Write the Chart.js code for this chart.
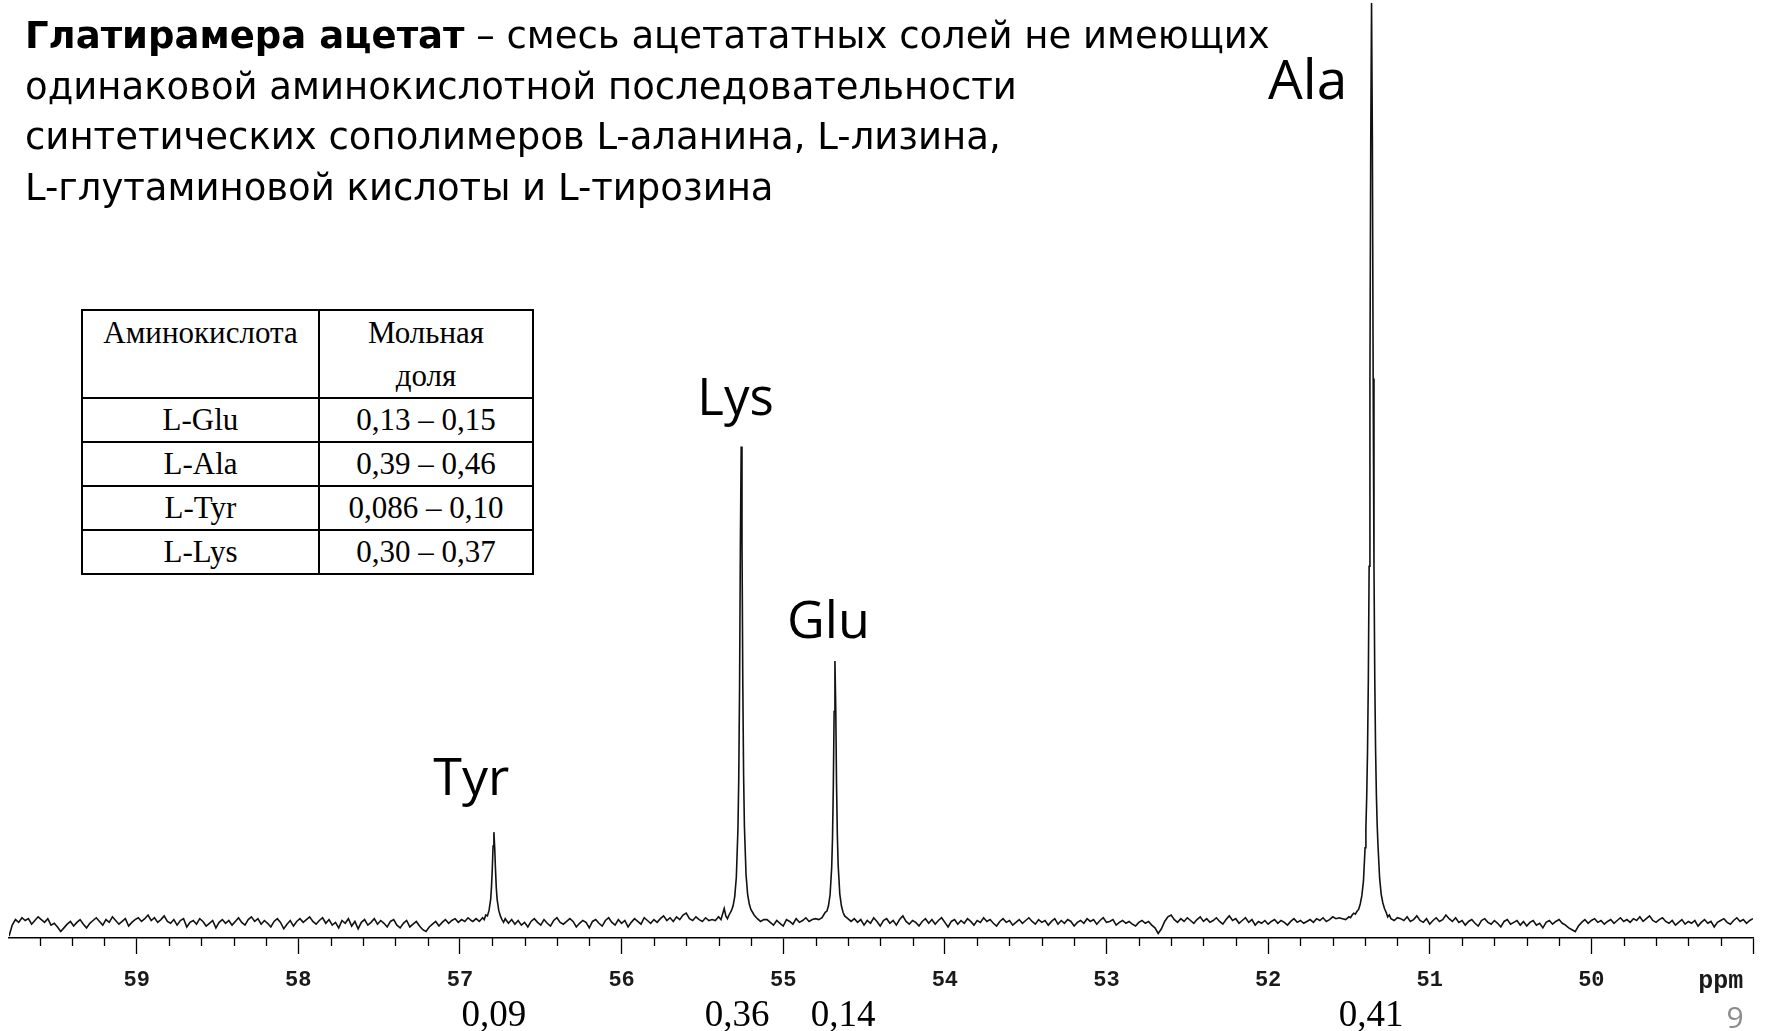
<!DOCTYPE html>
<html>
<head>
<meta charset="utf-8">
<title>Глатирамера ацетат</title>
<script src="https://cdn.jsdelivr.net/npm/chart.js@4.4.1/dist/chart.umd.min.js"></script>
<style>
body { margin: 0; background: #fff; overflow: hidden; }
#wrap { position: absolute; left: 0; top: 0; width: 1766px; height: 1031px; }
#titulo {
    position: absolute; left: 25px; top: 11px; z-index: 2;
    font-family: "DejaVu Sans"; font-size: 37px; line-height: 50.7px; color: #000; white-space: nowrap;
}
#tabla {
    position: absolute; left: 81px; top: 309px; z-index: 2;
    border-collapse: collapse; background: #fff;
    font-family: "Liberation Serif"; font-size: 31px; color: #000;
}
#tabla td { border: 2px solid #000; padding: 0; text-align: center; line-height: 42px; height: 42px; }
#tabla td.h { vertical-align: top; height: 84px; line-height: 43px; }
#pagina {
    position: absolute; left: 1717px; top: 996px; width: 36px; text-align: center; z-index: 2;
    font-family: "Open Sans"; font-size: 30px; color: #8c8c8c;
}
</style>
</head>
<body>
<div id="wrap"><canvas id="chart"></canvas></div>

<div id="titulo"><b>Глатирамера ацетат</b> – смесь ацетататных солей не имеющих<br>одинаковой аминокислотной последовательности<br>синтетических сополимеров L-аланина, L-лизина,<br>L-глутаминовой кислоты и L-тирозина</div>

<table id="tabla">
  <tr><td class="h" style="width:235px">Аминокислота</td><td class="h" style="width:212px">Мольная<br>доля</td></tr>
  <tr><td>L-Glu</td><td>0,13 – 0,15</td></tr>
  <tr><td>L-Ala</td><td>0,39 – 0,46</td></tr>
  <tr><td>L-Tyr</td><td>0,086 – 0,10</td></tr>
  <tr><td>L-Lys</td><td>0,30 – 0,37</td></tr>
</table>

<div id="pagina">9</div>

<script>
// 13C спектр, ppm. шум базовой линии с шагом 0.02 ppm
var step = 0.02;

// 59.79 -> 56.93
var noiseA = [
    -1.4, -0.2, 0.4, 0.1, 0.6, 0.3, 0.5, -0.1, 0.3, 0.7,
    0.4, 0.1, 0.5, -0.2, 0.0, -0.4, -0.9, -0.5, -0.1, 0.2,
    -0.3, 0.1, 0.4, -0.1, -0.5, 0.0, 0.3, 0.6, 0.2, -0.2,
    0.4, 0.1, 0.7, 0.3, -0.1, 0.2, 0.5, -0.3, 0.1, 0.4,
    0.6, 0.2, 0.5, 0.9, 0.3, 0.6, 0.1, 0.4, 0.8, 0.2,
    0.0, 0.4, -0.2, 0.3, 0.5, -0.4, 0.1, 0.3, -0.1, 0.5,
    0.2, -0.3, 0.0, 0.3, -0.5, 0.1, 0.4, 0.0, 0.3, -0.2,
    0.2, 0.6, 0.1, -0.2, 0.4, 0.7, 0.2, 0.5, -0.1, 0.3,
    0.0, -0.4, 0.2, 0.5, 0.1, -0.6, -0.1, 0.3, -0.3, 0.2,
    0.5, 0.1, 0.4, 0.7, 0.2, -0.1, 0.3, 0.6, 0.0, 0.4,
    -0.2, 0.1, -0.5, 0.3, 0.0, 0.5, -0.3, 0.2, -0.6, 0.1,
    0.4, -0.2, 0.1, 0.5, -0.1, 0.3, 0.0, -0.4, 0.2, 0.4,
    -0.2, -0.5, 0.0, 0.3, -0.4, -0.1, 0.2, -0.3, -0.7, -0.9,
    -0.4, -0.1, 0.2, -0.3, 0.1, 0.4, 0.0, 0.3, 0.5, 0.1,
    0.4, 0.2, 0.6, 0.3
];
// 56.64 -> 55.44
var noiseB = [
    0.3, -0.2, 0.1, -0.4, 0.2, 0.5, 0.1, -0.2, 0.4, 0.0,
    -0.3, 0.3, 0.6, 0.1, -0.1, 0.2, 0.5, 0.2, -0.4, 0.0,
    0.3, 0.1, -0.5, 0.2, 0.4, 0.0, -0.3, 0.3, 0.6, 0.1,
    -0.2, 0.4, 0.0, 0.3, -0.4, 0.1, 0.5, 0.2, -0.1, 0.6,
    0.3, 0.0, 0.4, 0.1, 0.5, 0.8, 0.3, 0.6, 0.2, 0.7,
    0.4, 0.9, 1.1, 0.5, 0.3, 0.7, 0.4, 0.2, 0.6, 0.3,
    0.4
];
// 55.10 -> 54.80
var noiseC = [0.4, 0.1, -0.2, 0.3, 0.0, -0.3, 0.4, 0.2, -0.1, 0.5, 0.1, 0.3, 0.6, 0.2, 0.4, 0.5];
// 54.56 -> 51.56
var noiseD = [
    0.5, 0.1, 0.4, -0.2, 0.3, 0.0, 0.6, 0.2, -0.3, 0.3,
    0.5, 0.0, 0.3, -0.2, 0.4, 0.8, 0.2, -0.1, 0.3, 0.1,
    -0.3, 0.2, 0.5, 0.0, 0.4, -0.1, 0.3, 0.6, 0.1, -0.4,
    0.2, 0.4, -0.1, 0.3, 0.0, 0.5, 0.2, -0.2, 0.3, 0.1,
    0.6, 0.2, 0.4, 0.0, -0.3, 0.2, 0.5, 0.1, 0.3, -0.2,
    0.1, 0.4, 0.0, 0.3, 0.6, 0.2, -0.1, 0.4, 0.1, 0.3,
    -0.2, 0.2, 0.5, -0.1, 0.3, 0.0, 0.4, 0.2, -0.3, 0.1,
    0.3, 0.0, 0.5, 0.2, 0.4, -0.1, 0.3, 0.6, 0.1, 0.2,
    0.4, -0.2, 0.1, 0.3, 0.0, 0.2, -0.1, -0.3, 0.1, 0.3,
    0.0, 0.2, -0.2, -0.5, -1.1, -0.6, 0.2, 0.7, 0.9, 0.4,
    0.1, 0.5, 0.2, 0.6, 0.3, 0.0, 0.4, 0.7, 0.2, 0.5,
    0.1, 0.3, 0.6, 0.2, -0.1, 0.4, 0.8, 0.3, 0.5, 0.0,
    0.3, 0.6, 0.1, 0.4, -0.2, 0.2, 0.0, 0.3, -0.1, 0.2,
    0.4, 0.0, 0.3, 0.1, -0.2, 0.2, 0.5, 0.1, 0.3, 0.0,
    0.2, 0.4, 0.1, 0.5, 0.3, 0.6, 0.2, 0.4, 0.7, 0.5,
    0.6
];
// 51.18 -> 49.00
var noiseE = [
    0.5, 0.3, 0.7, 0.2, 0.4, 0.8, 0.3, 0.1, 0.5, -0.1,
    0.3, 0.6, 0.2, 0.4, 0.9, 0.5, 0.2, 0.6, 0.1, 0.3,
    -0.2, 0.2, 0.4, 0.0, -0.3, 0.3, 0.5, 0.1, -0.1, 0.3,
    0.0, -0.4, 0.2, 0.4, -0.1, 0.1, 0.3, -0.2, 0.2, -0.3,
    0.1, 0.3, -0.2, 0.0, -0.5, 0.1, 0.3, -0.1, 0.2, 0.4,
    0.0, -0.2, -0.5, -0.7, -0.9, -0.3, 0.1, 0.4, 0.0, 0.3,
    0.5, 0.1, 0.3, -0.1, 0.2, 0.4, 0.0, 0.3, 0.6, 0.2,
    0.4, 0.1, 0.5, 0.3, 0.7, 0.2, 0.5, 0.8, 0.3, 0.1,
    0.4, 0.6, 0.2, 0.0, 0.3, -0.2, 0.1, 0.4, -0.1, 0.2,
    0.0, 0.3, -0.3, 0.1, 0.4, 0.0, 0.2, -0.4, 0.1, 0.3,
    0.5, 0.1, -0.1, 0.3, 0.6, 0.2, 0.4, 0.0, 0.3, 0.5
];

// пики [ppm, интенсивность]
var tyrPeak = [
    [56.92, 0.2], [56.90, 0.5], [56.88, 0.2], [56.86, 0.6], [56.85, 0.4], [56.84, 0.9],
    [56.83, 0.8], [56.82, 1.4], [56.81, 2.6], [56.805, 3.9], [56.80, 5.9], [56.795, 8.4],
    [56.79, 9.9], [56.785, 8.2], [56.78, 5.8], [56.775, 3.8], [56.77, 2.6], [56.76, 1.4],
    [56.75, 0.8], [56.74, 0.4], [56.73, 0.1], [56.72, 0.5], [56.70, 0.0], [56.68, 0.4],
    [56.66, -0.1]
];
var lysPeak = [
    [55.42, 0.3], [55.40, 0.7], [55.385, 0.4], [55.375, 1.0], [55.365, 1.6], [55.355, 0.8],
    [55.345, 0.5], [55.335, 0.9], [55.32, 1.4], [55.31, 1.9], [55.30, 2.9], [55.29, 5.0],
    [55.28, 10.3], [55.275, 15.8], [55.27, 25.7], [55.265, 41.2], [55.26, 51.8], [55.255, 41.6],
    [55.25, 26.0], [55.245, 16.0], [55.24, 10.5], [55.23, 5.3], [55.22, 3.1], [55.21, 2.1],
    [55.20, 1.5], [55.18, 0.9], [55.16, 0.5], [55.14, 0.2], [55.12, 0.4]
];
var gluPeak = [
    [54.78, 0.4], [54.76, 0.6], [54.75, 0.9], [54.74, 1.2], [54.73, 1.3], [54.72, 1.9],
    [54.71, 3.1], [54.70, 6.1], [54.695, 9.3], [54.69, 14.8], [54.685, 23.0], [54.68, 28.5],
    [54.675, 23.4], [54.67, 15.0], [54.665, 9.5], [54.66, 6.3], [54.65, 3.2], [54.64, 1.9],
    [54.63, 1.2], [54.62, 0.8], [54.60, 0.5], [54.58, 0.2]
];
var alaPeak = [
    [51.54, 0.5], [51.52, 0.4], [51.50, 0.7], [51.49, 0.6], [51.48, 0.9], [51.47, 1.1],
    [51.46, 1.0], [51.45, 1.3], [51.44, 1.5], [51.43, 2.1], [51.42, 3.0], [51.41, 4.6],
    [51.40, 8.2], [51.395, 10.4], [51.39, 13.7], [51.385, 18.6], [51.38, 26.3], [51.375, 38.8],
    [51.37, 58.9], [51.365, 85.0], [51.36, 100], [51.355, 85.4], [51.35, 59.2], [51.345, 39.0],
    [51.34, 26.5], [51.335, 18.8], [51.33, 13.9], [51.325, 10.6], [51.32, 8.4], [51.31, 4.9],
    [51.30, 3.1], [51.29, 2.2], [51.28, 1.6], [51.27, 1.2], [51.26, 0.7], [51.25, 0.9],
    [51.24, 0.5], [51.22, 0.3], [51.20, 0.6]
];

var peakNames = ['Tyr', 'Lys', 'Glu', 'Ala'];
var fractions = ['0,09', '0,36', '0,14', '0,41'];

// где стоят подписи (ppm / уровень по шкале интенсивности)
var nameAt = [[56.93, 13.9], [55.295, 55.2], [54.72, 31.0], [51.755, 89.6]];
var fracAt = [56.79, 55.285, 54.63, 51.363];
var nameSize = [52, 51, 52, 55];

function segment(start, values){
    var out = [];
    values.forEach(function(v, i){
        out.push({x: Math.round((start - i * step) * 1000) / 1000, y: v});
    });
    return out;
}

function pairs(arr){
    var out = [];
    arr.forEach(function(p){ out.push({x: p[0], y: p[1]}); });
    return out;
}

var spectrum = [].concat(
    segment(59.79, noiseA), pairs(tyrPeak),
    segment(56.64, noiseB), pairs(lysPeak),
    segment(55.10, noiseC), pairs(gluPeak),
    segment(54.56, noiseD), pairs(alaPeak),
    segment(51.18, noiseE)
);

var extras = {
    id: 'extras',
    afterDraw: function(chart){
        var ctx = chart.ctx;
        var xs = chart.scales.x, ys = chart.scales.y;
        var top = xs.top;
        ctx.save();
        // мелкие деления 0.2 ppm
        ctx.strokeStyle = '#000';
        ctx.lineWidth = 1.3;
        for (var k = 492; k <= 596; k += 2){
            if (k % 10 === 0) continue;
            var px = Math.round(xs.getPixelForValue(k / 10)) + 0.5;
            ctx.beginPath();
            ctx.moveTo(px, top);
            ctx.lineTo(px, top + 8);
            ctx.stroke();
        }
        // ppm
        ctx.fillStyle = '#1a1a1a';
        ctx.font = 'bold 25px "Liberation Mono"';
        ctx.textAlign = 'center';
        ctx.textBaseline = 'middle';
        ctx.fillText('ppm', xs.getPixelForValue(49.2), top + 44);
        // названия пиков
        ctx.fillStyle = '#000';
        ctx.textBaseline = 'alphabetic';
        peakNames.forEach(function(n, i){
            ctx.font = nameSize[i] + 'px "Open Sans"';
            ctx.fillText(n, xs.getPixelForValue(nameAt[i][0]), ys.getPixelForValue(nameAt[i][1]));
        });
        // мольные доли
        ctx.font = '37px "Liberation Serif"';
        fractions.forEach(function(f, i){
            ctx.fillText(f, xs.getPixelForValue(fracAt[i]), top + 88);
        });
        ctx.restore();
    }
};

var ctx = document.getElementById('chart').getContext('2d');
var chart = new Chart(ctx, {
    type: 'scatter',
    data: {
        datasets: [{
            label: 'спектр',
            data: spectrum,
            showLine: true,
            borderColor: '#111',
            borderWidth: 1.6,
            pointRadius: 0,
            tension: 0,
            fill: false
        }]
    },
    options: {
        responsive: true,
        maintainAspectRatio: false,
        animation: false,
        layout: { padding: { left: 9, right: 10, top: 0, bottom: 0 } },
        plugins: { legend: { display: false }, tooltip: { enabled: false } },
        scales: {
            x: {
                type: 'linear',
                reverse: true,
                min: 49.0,
                max: 59.79,
                afterFit: function(scale){ scale.height = 93; },
                border: { display: true, color: '#000', width: 1.5 },
                grid: { drawOnChartArea: false, drawTicks: true, tickLength: 16, tickColor: '#000', tickWidth: 1.3 },
                ticks: {
                    stepSize: 1,
                    includeBounds: false,
                    autoSkip: false,
                    maxRotation: 0,
                    padding: 13,
                    color: '#1a1a1a',
                    font: { family: 'Liberation Mono', weight: 'bold', size: 22 },
                    callback: function(v){ return v === 49 ? '' : v; }
                }
            },
            y: { display: false, min: -1.6, max: 100.32 }
        }
    },
    plugins: [extras]
});
</script>
</body>
</html>
